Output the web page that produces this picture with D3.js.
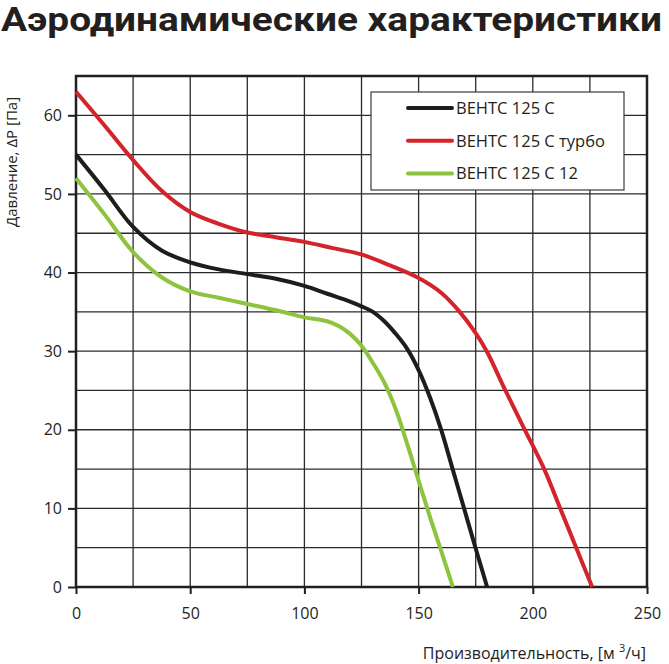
<!DOCTYPE html>
<html>
<head>
<meta charset="utf-8">
<script src="https://cdn.jsdelivr.net/npm/d3@7"></script>
<style>
  body { margin: 0; background: #fff; }
  text { font-family: "Open Sans", "Noto Sans", sans-serif; fill: #231f20; }
</style>
</head>
<body>
<div id="chart"></div>
<script>
// Flow rate [m3/h] vs pressure [Pa]
var ventsX = [0, 12.5, 25, 37.5, 50, 62.5, 75, 87.5, 100, 110, 120, 125, 130, 135, 140, 145, 150, 155, 160, 165, 170, 175, 180];
var ventsY = [55, 50.5, 45.8, 42.8, 41.3, 40.4, 39.8, 39.2, 38.3, 37.3, 36.3, 35.7, 35, 33.8, 32.2, 30.3, 27.6, 24.1, 19.9, 14.9, 9.9, 4.9, 0];

var turboX = [0, 12.5, 25, 37.5, 50, 62.5, 75, 87.5, 100, 112.5, 125, 137.5, 150, 160, 168, 175, 180, 188, 196.5, 205, 212, 219, 226];
var turboY = [63, 58.7, 54.3, 50.4, 47.7, 46.2, 45.1, 44.5, 43.9, 43.1, 42.3, 40.9, 39.3, 37.4, 35, 32.3, 29.9, 25, 20, 15, 10, 5, 0];

var v12X = [0, 12.5, 25, 37.5, 50, 62.5, 75, 87.5, 100, 110, 115, 120, 125, 130, 135, 140, 145, 150, 155, 160, 165];
var v12Y = [52, 47.4, 42.6, 39.4, 37.6, 36.8, 36, 35.2, 34.3, 33.8, 33.2, 32.2, 30.7, 28.5, 26, 22.6, 18.2, 13.5, 8.9, 4.5, 0];

var seriesNames = ["ВЕНТС 125 С", "ВЕНТС 125 С турбо", "ВЕНТС 125 С 12"];
var xTicks = [0, 50, 100, 150, 200, 250];
var yTicks = [0, 10, 20, 30, 40, 50, 60];

var colors = ["#1d1d1b", "#d3242b", "#8dc33f"];

var margin = {top: 76, right: 22, bottom: 77, left: 76},
	totalW = 669, totalH = 664,
	width = totalW - margin.left - margin.right,
	height = totalH - margin.top - margin.bottom;

var svgRoot = d3.select("#chart")
	.append("svg")
	.attr("width", totalW)
	.attr("height", totalH);

// Title
svgRoot.append("text")
	.attr("x", 1)
	.attr("y", 30.5)
	.attr("textLength", 661)
	.attr("lengthAdjust", "spacingAndGlyphs")
	.style("font-family", "Roboto, sans-serif")
	.style("font-weight", "bold")
	.style("font-size", "33px")
	.text("Аэродинамические характеристики");

var svg = svgRoot.append("g")
	.attr("transform", "translate(" + margin.left + "," + margin.top + ")");

var x = d3.scaleLinear().domain([0, 250]).range([0, width]);
var y = d3.scaleLinear().domain([0, 65]).range([height, 0]);

// Grid lines
svg.append("g")
	.selectAll("line")
	.data(d3.range(25, 250, 25))
	.enter()
	.append("line")
		.attr("x1", function(d) { return x(d); })
		.attr("x2", function(d) { return x(d); })
		.attr("y1", 0)
		.attr("y2", height)
		.attr("stroke", "#2b2b2b")
		.attr("stroke-width", 1.3);

svg.append("g")
	.selectAll("line")
	.data(d3.range(5, 65, 5))
	.enter()
	.append("line")
		.attr("x1", 0)
		.attr("x2", width)
		.attr("y1", function(d) { return y(d); })
		.attr("y2", function(d) { return y(d); })
		.attr("stroke", "#2b2b2b")
		.attr("stroke-width", 1.3);

// Axes
var xAxis = svg.append("g")
	.attr("transform", "translate(0," + height + ")")
	.call(d3.axisBottom(x).tickValues(xTicks).tickSize(7).tickPadding(14));

var yAxis = svg.append("g")
	.call(d3.axisLeft(y).tickValues(yTicks).tickSize(8).tickPadding(6));

[xAxis, yAxis].forEach(function(a) {
	a.select(".domain").remove();
	a.selectAll("line").attr("stroke", "#231f20").attr("stroke-width", 2);
	a.selectAll("text")
		.style("font-size", "16px")
		.style("font-family", "'Open Sans', sans-serif")
		.attr("fill", "#231f20");
});

// Frame
svg.append("rect")
	.attr("x", 0)
	.attr("y", 0)
	.attr("width", width)
	.attr("height", height)
	.attr("fill", "none")
	.attr("stroke", "#231f20")
	.attr("stroke-width", 2.5);

// Curves
var series = [
	{name: seriesNames[0], xs: ventsX, ys: ventsY, color: colors[0]},
	{name: seriesNames[1], xs: turboX, ys: turboY, color: colors[1]},
	{name: seriesNames[2], xs: v12X, ys: v12Y, color: colors[2]}
];

var line = d3.line()
	.x(function(d) { return x(d[0]); })
	.y(function(d) { return y(d[1]); })
	.curve(d3.curveCatmullRom.alpha(0.5));

svg.append("g")
	.selectAll("path")
	.data(series)
	.enter()
	.append("path")
		.attr("d", function(s) { return line(d3.zip(s.xs, s.ys)); })
		.attr("fill", "none")
		.attr("stroke", function(s) { return s.color; })
		.attr("stroke-width", 4)
		.attr("stroke-linejoin", "round");

// Legend
var legend = svgRoot.append("g")
	.attr("transform", "translate(371,92)");

legend.append("rect")
	.attr("x", 0)
	.attr("y", 0)
	.attr("width", 253)
	.attr("height", 98)
	.attr("fill", "#fff")
	.attr("stroke", "#3a3a3a")
	.attr("stroke-width", 1.2);

var rows = legend.selectAll(".row")
	.data(series)
	.enter()
	.append("g")
	.attr("class", "row")
	.attr("transform", function(d, i) { return "translate(0," + (16 + i * 32.7) + ")"; });

rows.append("line")
	.attr("x1", 37)
	.attr("x2", 81)
	.attr("stroke", function(d) { return d.color; })
	.attr("stroke-width", 4)
	.attr("stroke-linecap", "round");

rows.append("text")
	.attr("x", 85)
	.attr("dy", "0.36em")
	.style("font-size", "16.5px")
	.text(function(d) { return d.name; });

// Axis labels
var xLabel = svgRoot.append("text")
	.attr("x", 646)
	.attr("y", 659)
	.attr("text-anchor", "end")
	.style("font-size", "16px");
xLabel.append("tspan").text("Производительность, [м ");
xLabel.append("tspan").attr("dy", -7).style("font-size", "11px").text("3");
xLabel.append("tspan").attr("dy", 7).text("/ч]");

svgRoot.append("text")
	.attr("transform", "translate(17,162) rotate(-90)")
	.attr("text-anchor", "middle")
	.style("font-size", "15px")
	.text("Давление, ΔP [Па]");
</script>
</body>
</html>
